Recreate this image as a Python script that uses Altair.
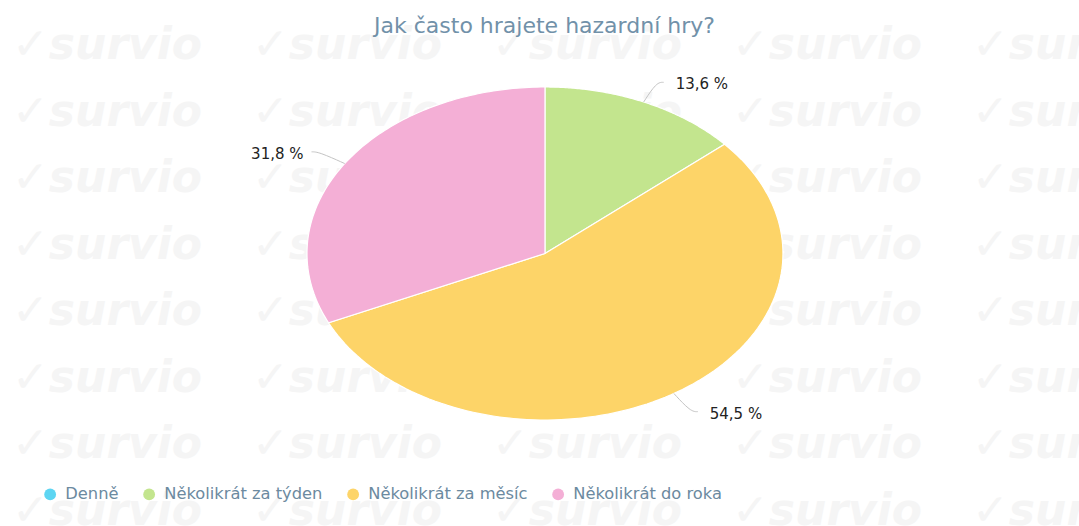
import altair as alt
import pandas as pd

# ---- data ----
categories = ["Denně", "Několikrát za týden", "Několikrát za měsíc", "Několikrát do roka"]
shares = [0.0, 13.6, 54.5, 31.8]
labels = ["0,0 %", "13,6 %", "54,5 %", "31,8 %"]
colors = ["#5dd5f2", "#c3e58e", "#fdd468", "#f4afd6"]
title_text = "Jak často hrajete hazardní hry?"
watermark_text = "✓survio"

df = pd.DataFrame({"cat": categories, "share": shares, "label": labels,
                   "idx": list(range(len(categories)))})

FONT = "DejaVu Sans"
color_scale = alt.Scale(domain=categories, range=colors)
xs = alt.Scale(domain=[-2.290, 2.244], nice=False, zero=False)
ys = alt.Scale(domain=[-1.6366, 1.5225], nice=False, zero=False)

base = (
    alt.Chart(df)
    .transform_window(cum="sum(share)", sort=[alt.SortField("idx", order="ascending")],
                      frame=[None, 0])
    .transform_joinaggregate(total="sum(share)")
    .transform_calculate(a0="2*PI*(datum.cum-datum.share)/datum.total",
                         a1="2*PI*datum.cum/datum.total")
    .transform_filter("datum.share > 0")
    .transform_calculate(mid="(datum.a0+datum.a1)/2")
    .transform_calculate(sgn="sin(datum.mid) >= 0 ? 1 : -1")
)

wedges = (
    base.transform_calculate(k="sequence(0, 121)")
    .transform_flatten(["k"])
    .transform_calculate(ang="datum.a0 + (datum.a1-datum.a0)*(datum.k-1)/119")
    .transform_calculate(px="datum.k==0 ? 0 : sin(datum.ang)",
                         py="datum.k==0 ? 0 : cos(datum.ang)")
    .mark_line(filled=True, interpolate="linear-closed", stroke="white", strokeWidth=1.2)
    .encode(
        x=alt.X("px:Q", scale=xs, axis=None),
        y=alt.Y("py:Q", scale=ys, axis=None),
        color=alt.Color("cat:N", scale=color_scale, legend=alt.Legend(
            orient="none", legendX=42, legendY=486, direction="horizontal", title=None,
            symbolType="circle", symbolSize=140, symbolStrokeWidth=0,
            labelFontSize=16.3, labelColor="#6c8aa0", labelFont=FONT,
            columnPadding=22, labelOffset=7, padding=0)),
        detail="cat:N",
        order=alt.Order("k:Q"),
    )
)

conn = (
    base.transform_calculate(k="[0, 1, 2]")
    .transform_flatten(["k"])
    .transform_calculate(r="datum.k==0 ? 1 : 1.13")
    .transform_calculate(cx="datum.r*sin(datum.mid) + (datum.k==2 ? datum.sgn*0.03 : 0)",
                         cy="datum.r*cos(datum.mid)")
    .mark_line(color="#c4c4c4", strokeWidth=1, interpolate="basis")
    .encode(x=alt.X("cx:Q", scale=xs, axis=None), y=alt.Y("cy:Q", scale=ys, axis=None),
            detail="cat:N", order=alt.Order("k:Q"))
)

lab = base.transform_calculate(lx="1.13*sin(datum.mid) + datum.sgn*0.03",
                               ly="1.13*cos(datum.mid)")
lab_r = lab.transform_filter("datum.sgn > 0").mark_text(
    align="left", baseline="middle", dx=12, dy=2, font=FONT, fontSize=15, color="#222222"
).encode(x=alt.X("lx:Q", scale=xs, axis=None), y=alt.Y("ly:Q", scale=ys, axis=None),
         text="label:N")
lab_l = lab.transform_filter("datum.sgn < 0").mark_text(
    align="right", baseline="middle", dx=-8, dy=2, font=FONT, fontSize=15, color="#222222"
).encode(x=alt.X("lx:Q", scale=xs, axis=None), y=alt.Y("ly:Q", scale=ys, axis=None),
         text="label:N")

wm = (
    alt.Chart(alt.sequence(0, 5, as_="i"))
    .transform_calculate(j="sequence(0, 8)")
    .transform_flatten(["j"])
    .transform_calculate(wx="12 + 240*datum.i", wy="46 + 66.5*datum.j")
    .mark_text(text=watermark_text, font=FONT, fontSize=44, fontStyle="italic",
               fontWeight="bold", color="#f5f5f5", align="left", baseline="middle")
    .encode(x=alt.X("wx:Q", scale=alt.Scale(domain=[0, 1079], range=[0, 1079]), axis=None),
            y=alt.Y("wy:Q", scale=alt.Scale(domain=[0, 526], range=[0, 526]), axis=None))
)

pie = alt.layer(wedges, conn, lab_r, lab_l)

chart = (
    alt.layer(wm, pie)
    .resolve_scale(x="independent", y="independent")
    .properties(
        width=1079, height=526, padding=0,
        autosize=alt.AutoSizeParams(type="none"),
        title=alt.TitleParams(title_text, fontSize=22, color="#7191a9", font=FONT,
                              fontWeight="normal", offset=-38, anchor="middle", dx=5),
    )
    .configure_view(stroke=None)
)

chart.save("out.html", embed_options={"renderer": "svg", "actions": False})
